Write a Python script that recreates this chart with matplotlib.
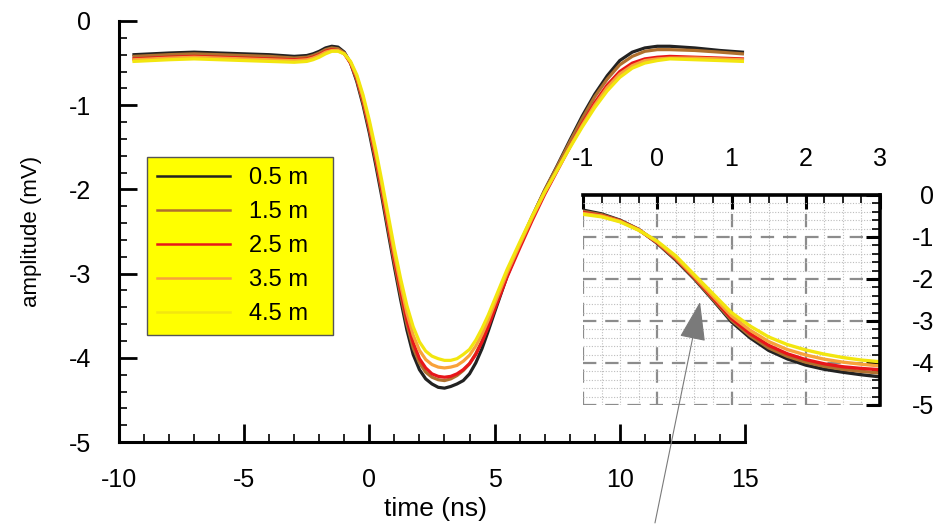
import matplotlib

matplotlib.use("Agg")
import matplotlib.pyplot as plt
from matplotlib.lines import Line2D
from matplotlib.ticker import MultipleLocator

plt.rcParams["font.family"] = ["Liberation Sans", "DejaVu Sans"]
plt.rcParams["axes.unicode_minus"] = False

# distances of the receiver
labels = ["0.5 m", "1.5 m", "2.5 m", "3.5 m", "4.5 m"]
colors = ["#222222", "#b0702e", "#e8161a", "#f8a23a", "#f2e60f"]

# full trace, time in ns, amplitude in mV
time_ns = [-9.4, -8, -7, -6, -5, -4, -3,
           -2.5, -2.25, -2, -1.75, -1.5, -1.25, -1, -0.75, -0.5, -0.25,
           0, 0.25, 0.5, 0.75, 1, 1.25, 1.5, 1.75, 2, 2.25, 2.5, 2.75,
           3, 3.25, 3.5, 3.75, 4, 4.25, 4.5, 4.75, 5,
           5.5, 6, 6.5, 7, 7.5, 8, 8.5, 9, 9.5, 10, 10.5, 11, 11.5, 12,
           13, 14, 14.9]
amp_05 = [-0.40, -0.38, -0.37, -0.38, -0.39, -0.40, -0.42,
          -0.41, -0.39, -0.36, -0.32, -0.30, -0.31, -0.37, -0.50, -0.72, -1.00,
          -1.33, -1.70, -2.09, -2.51, -2.92, -3.31, -3.67, -3.96, -4.14, -4.25, -4.31, -4.35,
          -4.36, -4.34, -4.31, -4.27, -4.19, -4.06, -3.89, -3.68, -3.46,
          -3.03, -2.67, -2.33, -2.01, -1.72, -1.42, -1.13, -0.87, -0.65, -0.47, -0.37, -0.32, -0.30, -0.30,
          -0.32, -0.35, -0.37]
amp_15 = [-0.42, -0.40, -0.39, -0.40, -0.41, -0.42, -0.44,
          -0.43, -0.41, -0.38, -0.34, -0.32, -0.33, -0.38, -0.50, -0.70, -0.97,
          -1.29, -1.65, -2.04, -2.46, -2.87, -3.25, -3.60, -3.88, -4.06, -4.17, -4.23, -4.26,
          -4.27, -4.25, -4.21, -4.15, -4.07, -3.95, -3.80, -3.61, -3.40,
          -3.00, -2.65, -2.32, -2.01, -1.73, -1.44, -1.16, -0.90, -0.69, -0.52, -0.42, -0.36, -0.34, -0.34,
          -0.35, -0.37, -0.39]
amp_25 = [-0.45, -0.43, -0.42, -0.43, -0.44, -0.45, -0.46,
          -0.45, -0.43, -0.40, -0.36, -0.34, -0.35, -0.39, -0.50, -0.68, -0.94,
          -1.26, -1.62, -2.00, -2.42, -2.83, -3.20, -3.55, -3.82, -4.01, -4.12, -4.19, -4.22,
          -4.23, -4.22, -4.19, -4.14, -4.07, -3.96, -3.81, -3.63, -3.43,
          -3.04, -2.70, -2.37, -2.06, -1.78, -1.50, -1.22, -0.97, -0.76, -0.60, -0.50, -0.45, -0.43, -0.42,
          -0.43, -0.44, -0.45]
amp_35 = [-0.46, -0.44, -0.43, -0.44, -0.45, -0.46, -0.47,
          -0.46, -0.44, -0.41, -0.37, -0.35, -0.35, -0.39, -0.49, -0.66, -0.91,
          -1.22, -1.57, -1.95, -2.36, -2.77, -3.13, -3.47, -3.73, -3.91, -4.02, -4.08, -4.11,
          -4.12, -4.11, -4.09, -4.04, -3.97, -3.86, -3.72, -3.55, -3.36,
          -2.99, -2.66, -2.34, -2.04, -1.77, -1.50, -1.24, -1.00, -0.79, -0.63, -0.53, -0.47, -0.45, -0.44,
          -0.44, -0.45, -0.46]
amp_45 = [-0.48, -0.46, -0.45, -0.46, -0.47, -0.48, -0.49,
          -0.48, -0.46, -0.43, -0.39, -0.36, -0.36, -0.39, -0.48, -0.64, -0.88,
          -1.18, -1.52, -1.90, -2.30, -2.70, -3.06, -3.38, -3.63, -3.81, -3.92, -3.98, -4.01,
          -4.03, -4.03, -4.01, -3.96, -3.90, -3.79, -3.65, -3.49, -3.31,
          -2.95, -2.63, -2.32, -2.03, -1.77, -1.51, -1.26, -1.03, -0.83, -0.67, -0.56, -0.50, -0.47, -0.45,
          -0.46, -0.47, -0.48]

# zoomed leading edge
zoom_ns = [-1, -0.75, -0.5, -0.25, 0, 0.25, 0.5, 0.75, 1, 1.25, 1.5, 1.75, 2,
           2.25, 2.5, 2.75, 3]
zoom_05 = [-0.36, -0.45, -0.60, -0.82, -1.15, -1.55, -2.00, -2.50, -3.02, -3.40,
           -3.70, -3.90, -4.05, -4.15, -4.22, -4.28, -4.33]
zoom_15 = [-0.39, -0.47, -0.61, -0.82, -1.14, -1.53, -1.98, -2.48, -2.98, -3.35,
           -3.64, -3.84, -3.98, -4.08, -4.15, -4.20, -4.24]
zoom_25 = [-0.42, -0.49, -0.62, -0.83, -1.13, -1.51, -1.96, -2.45, -2.94, -3.30,
           -3.58, -3.78, -3.92, -4.02, -4.09, -4.13, -4.16]
zoom_35 = [-0.44, -0.50, -0.63, -0.83, -1.12, -1.49, -1.94, -2.41, -2.88, -3.22,
           -3.49, -3.68, -3.81, -3.91, -3.98, -4.03, -4.07]
zoom_45 = [-0.46, -0.52, -0.64, -0.84, -1.10, -1.45, -1.90, -2.35, -2.80, -3.12,
           -3.38, -3.56, -3.69, -3.79, -3.87, -3.93, -3.97]

traces = [amp_05, amp_15, amp_25, amp_35, amp_45]
zoom_traces = [zoom_05, zoom_15, zoom_25, zoom_35, zoom_45]

fig = plt.figure(figsize=(9.42, 5.25), dpi=100)
ax = fig.add_axes([0.1263, 0.158, 0.6645, 0.802])
for amp, color in zip(traces, colors):
    ax.plot(time_ns, amp, color=color, lw=2.3, solid_joinstyle="round")
ax.set_xlim(-10, 15)
ax.set_ylim(-5, 0)
ax.xaxis.set_major_locator(MultipleLocator(5))
ax.xaxis.set_minor_locator(MultipleLocator(1))
ax.yaxis.set_major_locator(MultipleLocator(1))
ax.yaxis.set_minor_locator(MultipleLocator(0.2))
for side in ("top", "right"):
    ax.spines[side].set_visible(False)
for side in ("left", "bottom"):
    ax.spines[side].set_linewidth(2.2)
ax.tick_params(which="major", direction="in", length=13, width=2.0, labelsize=18)
ax.tick_params(which="minor", direction="in", length=6, width=1.2)
ax.tick_params(axis="x", which="major", pad=19)
ax.tick_params(axis="y", which="major", pad=20)
ax.set_xlabel("time (ns)", fontsize=19)
ax.set_ylabel("amplitude (mV)", fontsize=16)
ax.xaxis.set_label_coords(0.505, -0.13)
ax.yaxis.set_label_coords(-0.123, 0.5)

handles = [Line2D([], [], color=c, lw=1.8) for c in colors]
leg = ax.legend(handles, labels, loc="upper left", mode="expand",
                bbox_to_anchor=(0.045, 0.266, 0.297, 0.411),
                fontsize=17, handlelength=3.1, handletextpad=0.8,
                labelspacing=0.51, borderpad=0.42, borderaxespad=0,
                fancybox=False, framealpha=1)
leg.get_frame().set_facecolor("#ffff00")
leg.get_frame().set_edgecolor("#555555")
leg.get_frame().set_linewidth(1.0)

# inset with the leading edge
ins = fig.add_axes([0.6189, 0.2286, 0.3153, 0.4])
for amp, color in zip(zoom_traces, colors):
    ins.plot(zoom_ns, amp, color=color, lw=2.4)
ins.set_xlim(-1, 3)
ins.set_ylim(-5, 0)
ins.xaxis.set_major_locator(MultipleLocator(1))
ins.xaxis.set_minor_locator(MultipleLocator(0.25))
ins.yaxis.set_major_locator(MultipleLocator(1))
ins.yaxis.set_minor_locator(MultipleLocator(0.2))
ins.grid(which="major", color="#8c8c8c", lw=1.6, ls=(0, (6, 4)))
ins.grid(which="minor", color="#bdbdbd", lw=0.8, ls=(0, (1, 1.5)))
ins.set_axisbelow(True)
for side in ("left", "bottom"):
    ins.spines[side].set_visible(False)
for side in ("top", "right"):
    ins.spines[side].set_linewidth(2.6)
ins.xaxis.tick_top()
ins.yaxis.tick_right()
ins.tick_params(which="major", direction="in", length=10, width=2.2, labelsize=18)
ins.tick_params(which="minor", direction="in", length=6, width=1.2)
ins.tick_params(axis="x", which="major", pad=17)
ins.tick_params(axis="y", which="major", pad=39)
for tick in ins.yaxis.get_major_ticks():
    tick.label2.set_horizontalalignment("right")

fig.add_artist(plt.Annotation(
    "", xy=(0.7431, 0.4248), xycoords="figure fraction",
    xytext=(0.6953, 0.004), textcoords="figure fraction",
    arrowprops=dict(arrowstyle="-|>,head_length=1.25,head_width=0.42",
                    mutation_scale=20, lw=0.8, color="#7a7a7a",
                    shrinkA=0, shrinkB=0),
    zorder=10))

fig.savefig("out.png", dpi=100)
